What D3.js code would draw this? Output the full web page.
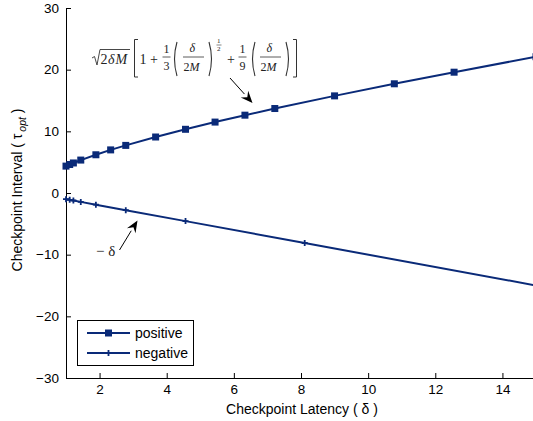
<!DOCTYPE html>
<html>
<head>
<meta charset="utf-8">
<script src="https://cdn.jsdelivr.net/npm/d3@7"></script>
<style>
  body { margin: 0; background: #fff; }
  svg { display: block; font-family: "Liberation Sans", Arial, sans-serif; }
  .tick text { font-size: 13.5px; fill: #000; font-family: "Liberation Sans", Arial, sans-serif; }
  .mathtxt { font-family: "Liberation Serif", "DejaVu Serif", serif; fill: #222; }
</style>
</head>
<body>
<div id="chart"></div>
<script>
const svgWidth = 533;
const svgHeight = 421;

// data
const posDelta = [1, 1.11, 1.22, 1.44, 1.89, 2.33, 2.78, 3.67, 4.56, 5.44, 6.33, 7.22, 9.0, 10.78, 12.56, 15];
const posTau   = [4.36, 4.62, 4.87, 5.34, 6.2, 6.99, 7.72, 9.08, 10.33, 11.5, 12.62, 13.7, 15.75, 17.71, 19.59, 22.1];
const negDelta = [1, 1.11, 1.22, 1.44, 1.89, 2.78, 4.56, 8.11, 15];
const negTau   = [-1, -1.11, -1.22, -1.44, -1.89, -2.78, -4.56, -8.11, -15];
const xTicks = [2, 4, 6, 8, 10, 12, 14];
const yTicks = [-30, -20, -10, 0, 10, 20, 30];
const seriesNames = ["positive", "negative"];

const lineColor = "#0a2a78";

const svg = d3.select("#chart")
  .append("svg")
  .attr("width", svgWidth)
  .attr("height", svgHeight);

const x = d3.scaleLinear().domain([1, 15]).range([66, 536]);
const y = d3.scaleLinear().domain([-30, 30]).range([378, 8]);

// axes (matlab style, ticks pointing inward)
svg.append("g")
  .attr("transform", `translate(0, ${y(-30)})`)
  .call(d3.axisBottom(x).tickValues(xTicks).tickSizeInner(-5).tickSizeOuter(0).tickPadding(6))
  .call(g => g.select(".domain").attr("stroke", "#000"));

svg.append("g")
  .attr("transform", `translate(${x(1)}, 0)`)
  .call(d3.axisLeft(y).tickValues(yTicks).tickSizeInner(-5).tickSizeOuter(0).tickPadding(7)
    .tickFormat(d => d < 0 ? "\u2212" + Math.abs(d) : d))
  .call(g => g.select(".domain").attr("stroke", "#000"));

// lines
const posData = posDelta.map((d, i) => ({ x: d, y: posTau[i] }));
const negData = negDelta.map((d, i) => ({ x: d, y: negTau[i] }));

const line = d3.line().x(d => x(d.x)).y(d => y(d.y));

svg.append("path").datum(posData)
  .attr("d", line).attr("fill", "none").attr("stroke", lineColor).attr("stroke-width", 2);
svg.append("path").datum(negData)
  .attr("d", line).attr("fill", "none").attr("stroke", lineColor).attr("stroke-width", 2);

svg.selectAll("rect.pos").data(posData).enter().append("rect")
  .attr("class", "pos")
  .attr("x", d => x(d.x) - 3.5).attr("y", d => y(d.y) - 3.5)
  .attr("width", 7).attr("height", 7)
  .attr("fill", lineColor);

svg.selectAll("path.neg").data(negData).enter().append("path")
  .attr("class", "neg")
  .attr("d", d => `M${x(d.x) - 3},${y(d.y)}h6M${x(d.x)},${y(d.y) - 3}v6`)
  .attr("stroke", lineColor).attr("stroke-width", 1.8);

// axis labels
svg.append("text")
  .attr("x", 302).attr("y", 414)
  .attr("text-anchor", "middle").attr("font-size", 14)
  .text("Checkpoint Latency ( \u03b4 )");

const yl = svg.append("text")
  .attr("transform", `translate(22, 190) rotate(-90)`)
  .attr("text-anchor", "middle").attr("font-size", 14);
yl.append("tspan").text("Checkpoint Interval ( \u03c4");
yl.append("tspan").attr("font-size", 10.5).attr("font-style", "italic").attr("dy", 4).attr("dx", 2).text("opt");
yl.append("tspan").attr("dy", -4).text(" )");

// legend
const legend = svg.append("g");
legend.append("rect")
  .attr("x", 77.5).attr("y", 320.5).attr("width", 116).attr("height", 45)
  .attr("fill", "#fff").attr("stroke", "#000").attr("stroke-width", 1);
seriesNames.forEach((name, i) => {
  const ly = 333 + i * 20;
  legend.append("line").attr("x1", 87).attr("x2", 130).attr("y1", ly).attr("y2", ly)
    .attr("stroke", lineColor).attr("stroke-width", 2);
  if (i === 0) {
    legend.append("rect").attr("x", 105).attr("y", ly - 3.5).attr("width", 7).attr("height", 7).attr("fill", lineColor);
  } else {
    legend.append("path").attr("d", `M105.5,${ly}h6M108.5,${ly - 3}v6`).attr("stroke", lineColor).attr("stroke-width", 1.8);
  }
  legend.append("text").attr("x", 135).attr("y", ly + 5).attr("font-size", 14).text(name);
});

// formula annotation
const m = svg.append("g").attr("class", "mathtxt");
const stroke = "#333";
function t(px, py, s, size, italic) {
  m.append("text").attr("x", px).attr("y", py).attr("font-size", size || 14)
    .attr("font-style", italic ? "italic" : "normal").text(s);
}
// sqrt
m.append("path").attr("d", "M92,58 L94.5,56.5 L97,65 L100,49.5 L130,49.5")
  .attr("fill", "none").attr("stroke", stroke).attr("stroke-width", 0.9);
t(100.5, 63.5, "2"); t(108, 63.5, "\u03b4", 14, true); t(115.5, 63.5, "M", 14, true);
// brackets
m.append("path").attr("d", "M138,39.5 H134.5 V77 H138").attr("fill", "none").attr("stroke", stroke).attr("stroke-width", 1);
m.append("path").attr("d", "M293,39.5 H296.5 V77 H293").attr("fill", "none").attr("stroke", stroke).attr("stroke-width", 1);
t(139.5, 63.5, "1"); t(150, 63.5, "+");
// 1/3
t(163.5, 53, "1", 12); t(163.5, 70, "3", 12);
m.append("line").attr("x1", 162.5).attr("x2", 170.5).attr("y1", 57).attr("y2", 57).attr("stroke", stroke).attr("stroke-width", 0.8);
function parens(x0, x1) {
  m.append("path").attr("d", `M${x0 + 4},42 Q${x0 - 1},59 ${x0 + 4},76`).attr("fill", "none").attr("stroke", stroke).attr("stroke-width", 1.1);
  m.append("path").attr("d", `M${x1 - 4},42 Q${x1 + 1},59 ${x1 - 4},76`).attr("fill", "none").attr("stroke", stroke).attr("stroke-width", 1.1);
}
function dfrac(x0) {
  t(x0 + 6.5, 52, "\u03b4", 12, true);
  m.append("line").attr("x1", x0).attr("x2", x0 + 21).attr("y1", 57).attr("y2", 57).attr("stroke", stroke).attr("stroke-width", 0.8);
  t(x0 + 0.5, 71, "2", 12); t(x0 + 6.5, 71, "M", 12, true);
}
parens(173, 213);
dfrac(183);
// superscript 1/2
t(217, 43, "1", 7); t(217, 51, "2", 7);
m.append("line").attr("x1", 216.5).attr("x2", 221.5).attr("y1", 45).attr("y2", 45).attr("stroke", stroke).attr("stroke-width", 0.6);
t(227, 63.5, "+");
t(239.5, 53, "1", 12); t(239.5, 70, "9", 12);
m.append("line").attr("x1", 238.5).attr("x2", 246.5).attr("y1", 57).attr("y2", 57).attr("stroke", stroke).attr("stroke-width", 0.8);
parens(251, 290);
dfrac(260);

// arrows
function arrow(x0, y0, x1, y1) {
  const ang = Math.atan2(y1 - y0, x1 - x0);
  const L = 12, W = 5;
  const bx = x1 - L * Math.cos(ang), by = y1 - L * Math.sin(ang);
  svg.append("line").attr("x1", x0).attr("y1", y0).attr("x2", bx).attr("y2", by)
    .attr("stroke", "#000").attr("stroke-width", 1);
  svg.append("path")
    .attr("d", `M${x1},${y1} L${bx + W * Math.sin(ang)},${by - W * Math.cos(ang)} L${x1 - 0.65 * L * Math.cos(ang)},${y1 - 0.65 * L * Math.sin(ang)} L${bx - W * Math.sin(ang)},${by + W * Math.cos(ang)} Z`)
    .attr("fill", "#000");
}
arrow(230, 78, 252.5, 103);
arrow(119.5, 250, 137.5, 220.5);

m.append("text").attr("x", 96).attr("y", 256).attr("font-size", 15).text("\u2212 \u03b4");
</script>
</body>
</html>
